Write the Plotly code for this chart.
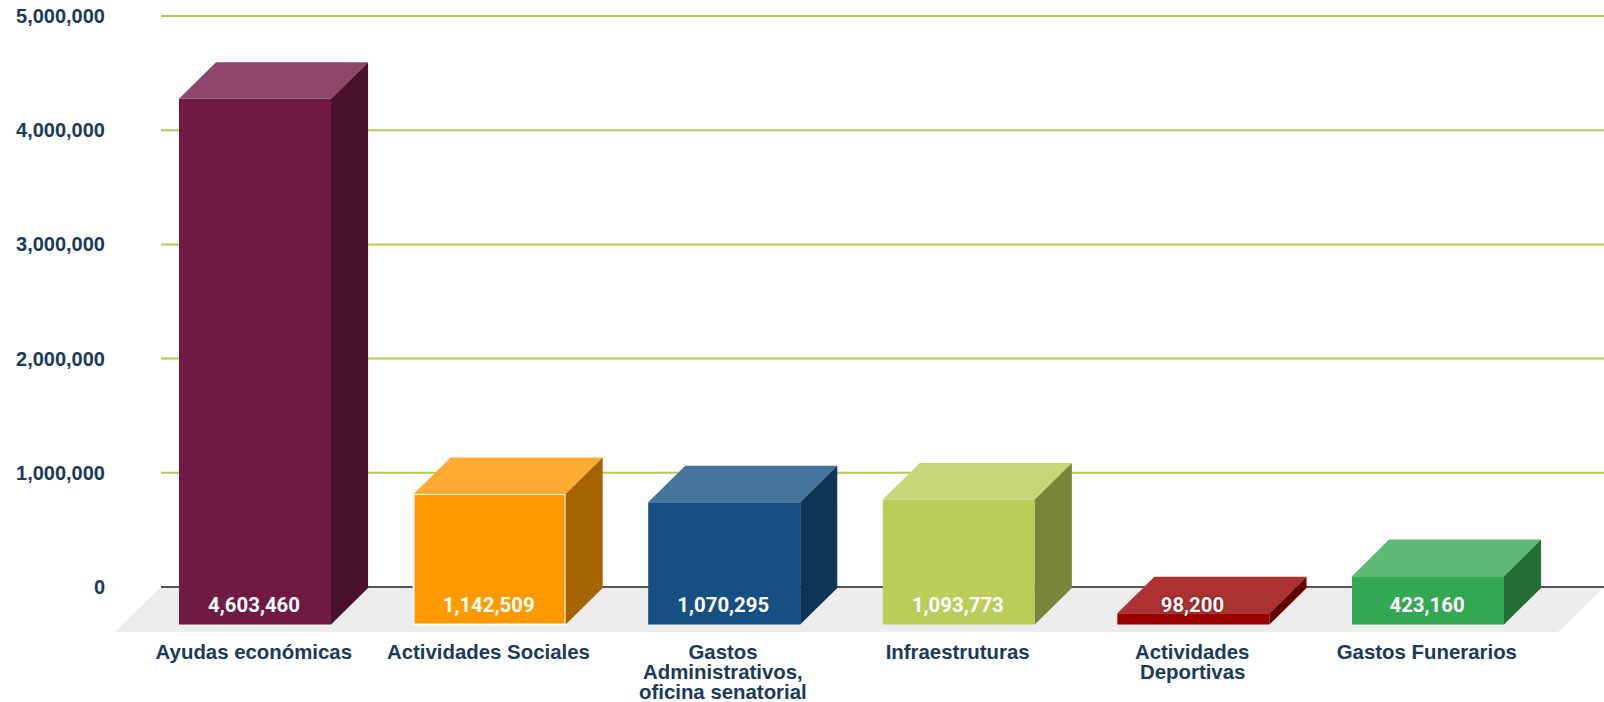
import plotly.graph_objects as go

categories = ["Ayudas económicas", "Actividades Sociales",
              "Gastos<br>Administrativos,<br>oficina senatorial",
              "Infraestruturas", "Actividades<br>Deportivas", "Gastos Funerarios"]
values = [4603460, 1142509, 1070295, 1093773, 98200, 423160]
front_colors = ["#701a43", "#ff9900", "#165082", "#bbcc59", "#990000", "#33a853"]
top_colors = ["#8c4669", "#ffab33", "#45759c", "#c8d578", "#ad3333", "#5cb976"]
side_colors = ["#4a112b", "#a66400", "#0f3556", "#7a853a", "#640000", "#226e36"]
y_ticks = [0, 1000000, 2000000, 3000000, 4000000, 5000000]

BASE = -328000
DEPTH_Y = 320000
DEPTH_X = 0.158
BAR_W = 0.648
LABEL_Y = -172000
Y_MIN, Y_MAX = -394000, 5140000
X_MIN, X_MAX = (115 - 255) / 234.6, (1604 - 255) / 234.6
GRID_X0 = (161 - 255) / 234.6
FLOOR_BR = (1558 - 255) / 234.6
NAVY = "#1a3a5c"
H = 702
PLOT_BOTTOM = 632

xs = list(range(len(values)))
fig = go.Figure()

fig.add_trace(go.Bar(
    x=xs, y=values, base=BASE, width=BAR_W,
    marker=dict(color=front_colors,
                line=dict(color="#ffffff", width=[0, 2, 0, 0, 0, 0])),
    hoverinfo="skip", showlegend=False))

for x, v, tc, sc in zip(xs, values, top_colors, side_colors):
    l, r = x - BAR_W / 2, x + BAR_W / 2
    top = BASE + v
    fig.add_trace(go.Scatter(
        x=[l, r, r + DEPTH_X, l + DEPTH_X, l],
        y=[top, top, top + DEPTH_Y, top + DEPTH_Y, top],
        mode="lines", fill="toself", fillcolor=tc, line=dict(width=0),
        hoverinfo="skip", showlegend=False))
    fig.add_trace(go.Scatter(
        x=[r, r + DEPTH_X, r + DEPTH_X, r, r],
        y=[BASE, BASE + DEPTH_Y, top + DEPTH_Y, top, BASE],
        mode="lines", fill="toself", fillcolor=sc, line=dict(width=0),
        hoverinfo="skip", showlegend=False))

fig.add_trace(go.Scatter(
    x=[x - 0.004 for x in xs], y=[LABEL_Y] * len(xs),
    mode="text", text=[f"{v:,}" for v in values], textposition="middle center",
    textfont=dict(family="Roboto", size=20.4, color="#ffffff", weight="bold",
                  shadow=["none", "none", "none", "none", "0 0 3px #770000", "none"]),
    hoverinfo="skip", showlegend=False))

shapes = [dict(type="path", layer="below", line=dict(width=0), fillcolor="#ececec",
               path=f"M {X_MIN} {Y_MIN} L {GRID_X0} 0 L {X_MAX} 0 L {FLOOR_BR} {Y_MIN} Z")]
for t in y_ticks:
    shapes.append(dict(type="line", layer="below", x0=GRID_X0, x1=X_MAX, y0=t, y1=t,
                       line=dict(color="#555555" if t == 0 else "#b5c84f", width=2)))

# Tick labels hold the first line; further lines keep the tighter original leading.
annotations = []
for x, c in zip(xs, categories):
    for i, line in enumerate(c.split("<br>")[1:], start=1):
        annotations.append(dict(
            x=x - 0.005, xref="x", yref="paper", y=-(652 + 20 * i - PLOT_BOTTOM) / PLOT_BOTTOM,
            text=line, showarrow=False, yanchor="middle", xanchor="center",
            font=dict(family="Liberation Sans", size=20.4, color=NAVY, weight="bold")))

fig.update_layout(
    width=1604, height=H, margin=dict(l=115, r=0, t=0, b=H - PLOT_BOTTOM),
    paper_bgcolor="#ffffff", plot_bgcolor="rgba(0,0,0,0)", showlegend=False,
    shapes=shapes, annotations=annotations,
    xaxis=dict(range=[X_MIN, X_MAX], tickvals=[x - 0.005 for x in xs],
               ticktext=[c.split("<br>")[0] for c in categories],
               showgrid=False, zeroline=False, showline=False, ticks="",
               ticklabelstandoff=6,
               tickfont=dict(family="Liberation Sans", size=20.4, color=NAVY, weight="bold")),
    yaxis=dict(range=[Y_MIN, Y_MAX], tickvals=y_ticks, tickformat=",d",
               showgrid=False, zeroline=False, showline=False, ticks="",
               ticklabelstandoff=9,
               tickfont=dict(family="Liberation Sans", size=20, color=NAVY, weight="bold")),
)
fig.write_html("out.html", config=dict(displayModeBar=False),
               post_script="document.body.style.margin='0';document.documentElement.style.overflow='hidden';")
